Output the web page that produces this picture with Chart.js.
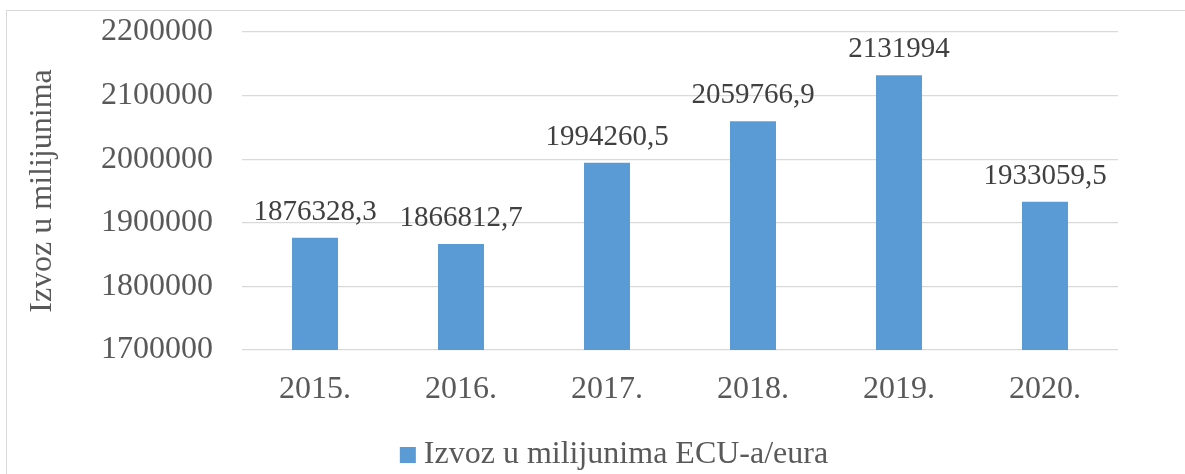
<!DOCTYPE html>
<html>
<head>
<meta charset="utf-8">
<script src="https://cdn.jsdelivr.net/npm/chart.js@4/dist/chart.umd.min.js"></script>
<style>
  html, body { margin: 0; padding: 0; background: #fff; }
  #wrap { position: relative; width: 1185px; height: 474px; overflow: hidden; }
  #frame { position: absolute; left: 6px; top: 10px; width: 1300px; height: 600px;
           border: 1.5px solid #d9d9d9; box-sizing: border-box; }
  canvas { position: absolute; left: 0; top: 0; }
</style>
</head>
<body>
<div id="wrap">
  <div id="frame"></div>
  <canvas id="myChart" width="1185" height="474"></canvas>
</div>
<script>
const years = ['2015.', '2016.', '2017.', '2018.', '2019.', '2020.'];
const izvoz = [1876328.3, 1866812.7, 1994260.5, 2059766.9, 2131994, 1933059.5];
const yMin = 1700000;
const yMax = 2200000;
const yStep = 100000;

const serif = "'Liberation Serif', 'Times New Roman', serif";
const barColor = '#5b9bd5';
const seriesName = 'Izvoz u milijunima ECU-a/eura';

// vrijednosti iznad stupaca
const barLabels = {
    id: 'barLabels',
    afterDatasetsDraw(chart) {
        const ctx = chart.ctx;
        const meta = chart.getDatasetMeta(0);
        ctx.save();
        ctx.font = '29px ' + serif;
        ctx.fillStyle = '#404040';
        ctx.textAlign = 'center';
        ctx.textBaseline = 'alphabetic';
        meta.data.forEach((bar, i) => {
            const txt = String(izvoz[i]).replace('.', ',');
            ctx.fillText(txt, bar.x, bar.y - 18);
        });
        ctx.restore();
    }
};

// legenda ispod grafa (kvadratic + tekst)
const bottomLegend = {
    id: 'bottomLegend',
    afterDraw(chart) {
        const ctx = chart.ctx;
        ctx.save();
        ctx.font = '32px ' + serif;
        const tw = ctx.measureText(seriesName).width;
        const total = 16 + 8 + tw;
        const x0 = 614 - total / 2;
        const cy = 455;
        ctx.fillStyle = barColor;
        ctx.fillRect(x0, cy - 8, 16, 16);
        ctx.fillStyle = '#595959';
        ctx.textAlign = 'left';
        ctx.textBaseline = 'middle';
        ctx.fillText(seriesName, x0 + 24, cy);
        ctx.restore();
    }
};

const ctx = document.getElementById('myChart');

new Chart(ctx, {
    type: 'bar',
    data: {
        labels: years,
        datasets: [{
            label: seriesName,
            data: izvoz,
            backgroundColor: barColor,
            categoryPercentage: 1,
            barPercentage: 0.315
        }]
    },
    options: {
        responsive: false,
        animation: false,
        layout: { padding: { top: 32, right: 67, left: 0, bottom: 50 } },
        plugins: {
            tooltip: { enabled: false },
            legend: { display: false }
        },
        scales: {
            x: {
                grid: { display: false, drawTicks: false },
                border: { display: false },
                ticks: { color: '#595959', font: { family: serif, size: 32 }, padding: 20 },
                afterFit(s) { s.height = 74; }
            },
            y: {
                min: yMin,
                max: yMax,
                ticks: {
                    stepSize: yStep,
                    color: '#595959',
                    font: { family: serif, size: 32 },
                    padding: 29,
                    callback: (v) => String(v)
                },
                grid: { color: '#d9d9d9', lineWidth: 1.3, drawTicks: false },
                border: { display: false },
                title: {
                    display: true,
                    text: 'Izvoz u milijunima',
                    color: '#595959',
                    font: { family: serif, size: 32 },
                    padding: { top: 23, bottom: 0 }
                },
                afterFit(s) {
                    s.width = 242;
                    s.paddingTop = 0;
                    s.paddingBottom = 0;
                }
            }
        }
    },
    plugins: [barLabels, bottomLegend]
});
</script>
</body>
</html>
